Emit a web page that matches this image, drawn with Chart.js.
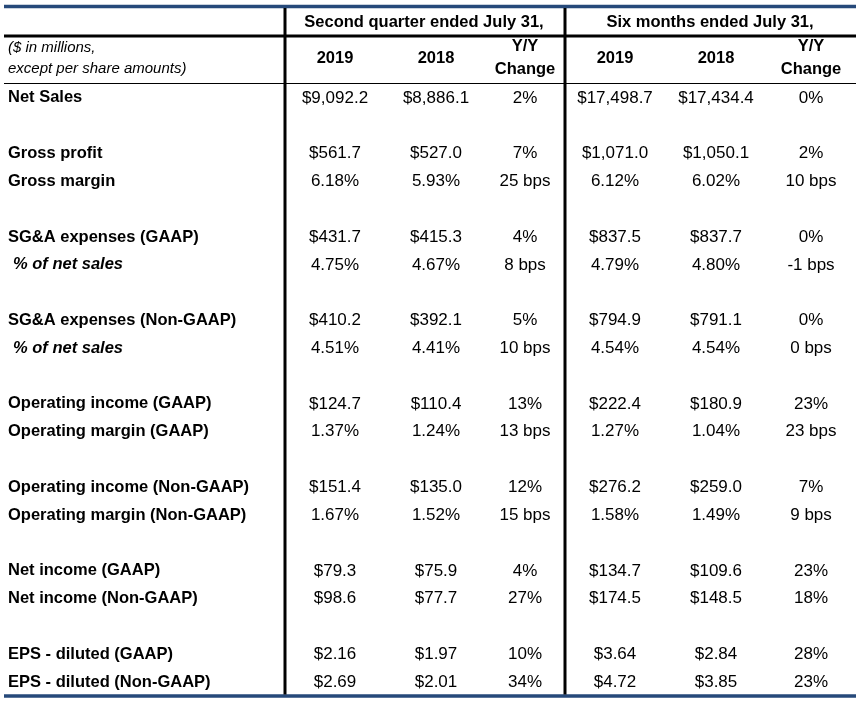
<!DOCTYPE html>
<html>
<head>
<meta charset="utf-8">
<script src="https://cdn.jsdelivr.net/npm/chart.js@4.4.1/dist/chart.umd.min.js"></script>
<style>
  html, body { margin: 0; padding: 0; background: #fff; }
  #wrap { width: 861px; height: 704px; }
</style>
</head>
<body>
<div id="wrap"><canvas id="tbl" width="861" height="704"></canvas></div>
<script>
// table content
const groupHeaders = ['Second quarter ended July 31,', 'Six months ended July 31,'];
const colHeaders = [['2019'], ['2018'], ['Y/Y', 'Change'], ['2019'], ['2018'], ['Y/Y', 'Change']];
const unitNote = ['($ in millions,', 'except per share amounts)'];

// '' = spacer row
const rowLabels = ['Net Sales', '', 'Gross profit', 'Gross margin', '',
    'SG&A expenses (GAAP)', '% of net sales', '',
    'SG&A expenses (Non-GAAP)', '% of net sales', '',
    'Operating income (GAAP)', 'Operating margin (GAAP)', '',
    'Operating income (Non-GAAP)', 'Operating margin (Non-GAAP)', '',
    'Net income (GAAP)', 'Net income (Non-GAAP)', '',
    'EPS - diluted (GAAP)', 'EPS - diluted (Non-GAAP)'];

const q2019 = ['$9,092.2', '', '$561.7', '6.18%', '', '$431.7', '4.75%', '', '$410.2', '4.51%', '',
    '$124.7', '1.37%', '', '$151.4', '1.67%', '', '$79.3', '$98.6', '', '$2.16', '$2.69'];
const q2018 = ['$8,886.1', '', '$527.0', '5.93%', '', '$415.3', '4.67%', '', '$392.1', '4.41%', '',
    '$110.4', '1.24%', '', '$135.0', '1.52%', '', '$75.9', '$77.7', '', '$1.97', '$2.01'];
const qChange = ['2%', '', '7%', '25 bps', '', '4%', '8 bps', '', '5%', '10 bps', '',
    '13%', '13 bps', '', '12%', '15 bps', '', '4%', '27%', '', '10%', '34%'];
const h2019 = ['$17,498.7', '', '$1,071.0', '6.12%', '', '$837.5', '4.79%', '', '$794.9', '4.54%', '',
    '$222.4', '1.27%', '', '$276.2', '1.58%', '', '$134.7', '$174.5', '', '$3.64', '$4.72'];
const h2018 = ['$17,434.4', '', '$1,050.1', '6.02%', '', '$837.7', '4.80%', '', '$791.1', '4.54%', '',
    '$180.9', '1.04%', '', '$259.0', '1.49%', '', '$109.6', '$148.5', '', '$2.84', '$3.85'];
const hChange = ['0%', '', '2%', '10 bps', '', '0%', '-1 bps', '', '0%', '0 bps', '',
    '23%', '23 bps', '', '7%', '9 bps', '', '23%', '18%', '', '28%', '23%'];

const valueCols = [q2019, q2018, qChange, h2019, h2018, hChange];

// layout (x units == px across the chart area)
const colWidths = [280, 102, 100, 78, 102, 100, 90];
const FONT = '"Liberation Sans", Arial, sans-serif';
const BLUE = '#26497a';

const rowKeys = rowLabels.map((r, i) => 'r' + i);
const colEdges = [0];
colWidths.forEach(w => colEdges.push(colEdges[colEdges.length - 1] + w));
const colCenter = i => (colEdges[i] + colEdges[i + 1]) / 2;

function cellData(arr, x) {
    return arr.map((v, i) => ({ x: x, y: rowKeys[i], t: v })).filter(p => p.t !== '');
}

const datasets = [{ label: 'labels', data: cellData(rowLabels, 4) }];
valueCols.forEach((col, c) => {
    datasets.push({ label: 'col' + c, data: cellData(col, colCenter(c + 1)) });
});

const tablePlugin = {
    id: 'tableText',
    afterDatasetsDraw(chart) {
        const ctx = chart.ctx;
        const area = chart.chartArea;
        const x = chart.scales.x;
        const top = area.top;
        const left = area.left, right = area.right;
        ctx.save();
        ctx.fillStyle = '#000';
        ctx.textBaseline = 'middle';

        // body cells
        chart.data.datasets.forEach((ds, d) => {
            const meta = chart.getDatasetMeta(d);
            meta.data.forEach((el, i) => {
                const t = ds.data[i].t;
                if (d === 0) {
                    const italic = t.startsWith('%');
                    ctx.font = (italic ? 'italic bold ' : 'bold ') + '16.5px ' + FONT;
                    ctx.textAlign = 'left';
                    ctx.fillText(t, el.x + (italic ? 5 : 0), el.y + 1);
                } else {
                    ctx.font = '17px ' + FONT;
                    ctx.textAlign = 'center';
                    ctx.fillText(t, el.x, el.y + 1);
                }
            });
        });

        // header: group titles
        ctx.font = 'bold 16.5px ' + FONT;
        ctx.textAlign = 'center';
        groupHeaders.forEach((g, i) => {
            const a = x.getPixelForValue(colEdges[1 + i * 3]);
            const b = x.getPixelForValue(colEdges[4 + i * 3]);
            ctx.fillText(g, (a + b) / 2, top - 61);
        });
        // header: column titles
        colHeaders.forEach((lines, c) => {
            const cx = x.getPixelForValue(colCenter(c + 1));
            if (lines.length === 1) {
                ctx.fillText(lines[0], cx, top - 25);
            } else {
                ctx.fillText(lines[0], cx, top - 37);
                ctx.fillText(lines[1], cx, top - 14);
            }
        });
        ctx.font = 'italic 15px ' + FONT;
        ctx.textAlign = 'left';
        ctx.fillText(unitNote[0], left + 4, top - 35);
        ctx.fillText(unitNote[1], left + 4, top - 14);

        // rules
        const hline = (y, w, color) => {
            ctx.beginPath();
            ctx.strokeStyle = color;
            ctx.lineWidth = w;
            ctx.moveTo(left, y);
            ctx.lineTo(right, y);
            ctx.stroke();
        };
        hline(top - 76.5, 3.5, BLUE);
        hline(top - 47, 3, '#000');
        hline(top + 0.5, 1, '#000');
        hline(area.bottom + 1, 3.5, BLUE);

        ctx.strokeStyle = '#000';
        ctx.lineWidth = 3;
        [colEdges[1], colEdges[4]].forEach(v => {
            const px = x.getPixelForValue(v) + 1;
            ctx.beginPath();
            ctx.moveTo(px, top - 75);
            ctx.lineTo(px, area.bottom - 0.5);
            ctx.stroke();
        });
        ctx.restore();
    }
};

new Chart(document.getElementById('tbl'), {
    type: 'scatter',
    data: { labels: rowKeys, datasets: datasets },
    options: {
        responsive: false,
        animation: false,
        devicePixelRatio: 1,
        layout: { padding: { left: 4, right: 5, top: 83, bottom: 9 } },
        elements: { point: { radius: 0, hoverRadius: 0 } },
        plugins: { legend: { display: false }, tooltip: { enabled: false } },
        events: [],
        scales: {
            x: { type: 'linear', min: 0, max: colEdges[colEdges.length - 1], display: false },
            y: { type: 'category', labels: rowKeys, offset: true, display: false }
        }
    },
    plugins: [tablePlugin]
});
</script>
</body>
</html>
